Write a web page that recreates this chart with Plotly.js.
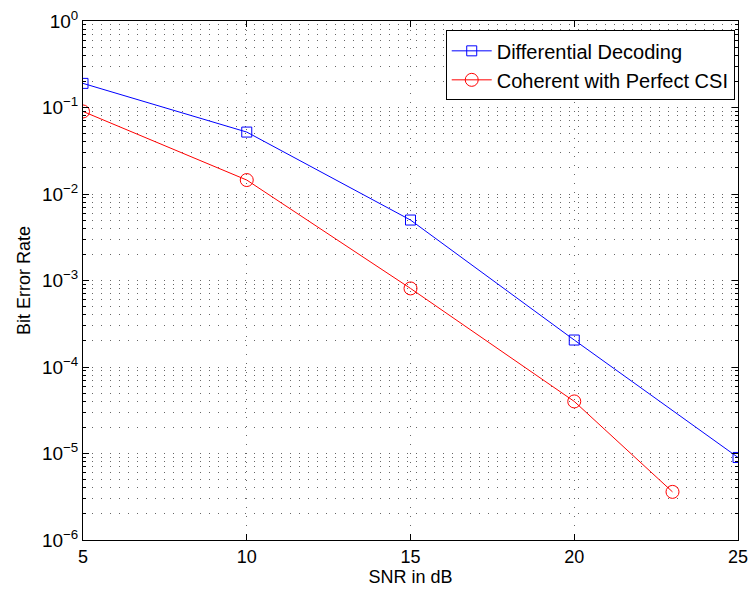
<!DOCTYPE html>
<html>
<head>
<meta charset="utf-8">
<script src="https://cdn.plot.ly/plotly-3.0.1.min.js"></script>
<style>html,body{margin:0;padding:0;background:#fff;}#chart{width:751px;height:597px;}</style>
</head>
<body>
<div id="chart"></div>
<script>
// Data
const snrDiff = [5, 10, 15, 20, 25];
const berDiff = [0.19, 0.052, 0.005, 2.05e-4, 9e-6];
const snrCoh = [5, 10, 15, 20, 23];
const berCoh = [0.09, 0.0145, 8.1e-4, 4e-5, 3.6e-6];
const nameDiff = 'Differential Decoding';
const nameCoh = 'Coherent with Perfect CSI';

// Axis ticks
const xTickVals = [5, 10, 15, 20, 25];
const yExponents = [0, -1, -2, -3, -4, -5, -6];
const yTickVals = yExponents.map(e => Math.pow(10, e));
const yTickText = yExponents.map(e => '10<sup>' + (e < 0 ? '\u2212' + (-e) : e) + '</sup>');
const yMinorVals = [];
for (let e = -6; e < 0; e++) {
  for (let m = 2; m <= 9; m++) yMinorVals.push(m * Math.pow(10, e));
}

const font = {family: 'Liberation Sans, Arial, Helvetica, sans-serif', color: '#000'};
const dotGrid = '1px,8px';
const gridCol = '#666';

const traces = [
  {
    x: snrDiff, y: berDiff, name: nameDiff, type: 'scatter', mode: 'lines+markers',
    line: {color: '#0000ff', width: 1},
    marker: {symbol: 'square-open', size: 10, color: '#0000ff', line: {width: 1, color: '#0000ff'}}
  },
  {
    x: snrCoh, y: berCoh, name: nameCoh, type: 'scatter', mode: 'lines+markers',
    line: {color: '#ff0000', width: 1},
    marker: {symbol: 'circle-open', size: 13, color: '#ff0000', line: {width: 1, color: '#ff0000'}}
  }
];

const layout = {
  width: 751, height: 597,
  margin: {l: 83, r: 13, t: 21, b: 57},
  paper_bgcolor: '#fff', plot_bgcolor: '#fff',
  font: Object.assign({size: 18}, font),
  showlegend: true,
  legend: {
    x: 0.995, xanchor: 'right', y: 0.982, yanchor: 'top',
    bgcolor: '#fff', bordercolor: '#000', borderwidth: 1,
    font: Object.assign({size: 20}, font),
    tracegroupgap: 0, itemwidth: 40
  },
  xaxis: {
    type: 'linear', range: [5, 25],
    tickmode: 'array', tickvals: xTickVals,
    ticks: 'inside', ticklen: 6, tickcolor: '#000', tickwidth: 1,
    showline: true, linecolor: '#000', linewidth: 1, mirror: 'ticks',
    showgrid: true, gridcolor: gridCol, gridwidth: 1, griddash: dotGrid,
    zeroline: false,
    tickfont: Object.assign({size: 18}, font),
    title: {text: 'SNR in dB', font: Object.assign({size: 18}, font), standoff: 3}
  },
  yaxis: {
    type: 'log', range: [-6, 0],
    tickmode: 'array', tickvals: yTickVals, ticktext: yTickText,
    ticks: 'inside', ticklen: 6, tickcolor: '#000', tickwidth: 1,
    showline: true, linecolor: '#000', linewidth: 1, mirror: 'ticks',
    showgrid: true, gridcolor: gridCol, gridwidth: 1, griddash: dotGrid,
    zeroline: false,
    tickfont: Object.assign({size: 19}, font),
    minor: {
      tickmode: 'array', tickvals: yMinorVals,
      ticks: 'inside', ticklen: 3, tickcolor: '#000',
      showgrid: true, gridcolor: gridCol, gridwidth: 1, griddash: dotGrid
    },
    title: {text: 'Bit Error Rate', font: Object.assign({size: 18}, font), standoff: 6}
  }
};

Plotly.newPlot('chart', traces, layout, {displayModeBar: false, staticPlot: true});
</script>
</body>
</html>
